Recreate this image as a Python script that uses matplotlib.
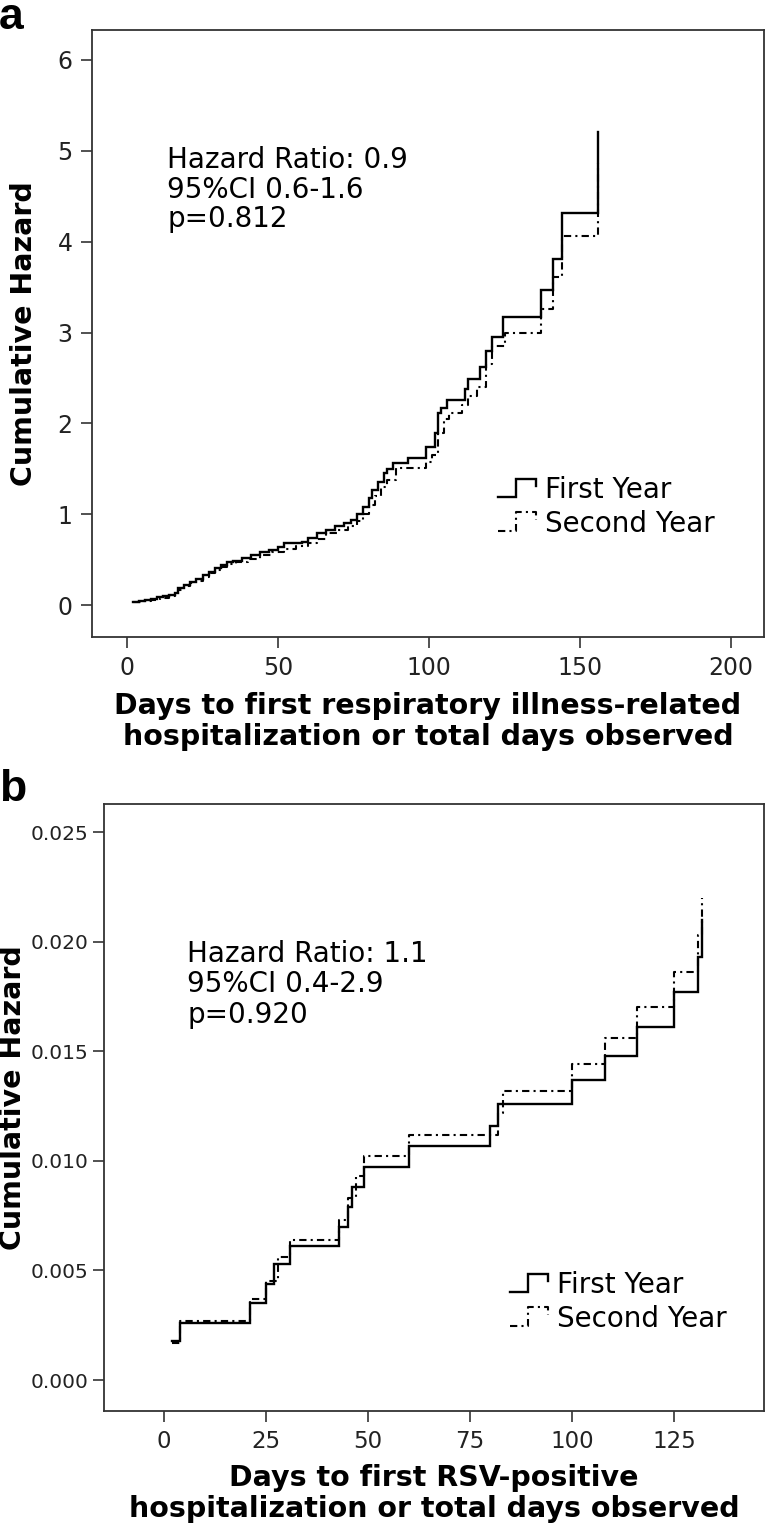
import matplotlib
matplotlib.use("Agg")
import matplotlib.pyplot as plt
from matplotlib.lines import Line2D
from matplotlib.legend_handler import HandlerBase
from matplotlib.ticker import FixedLocator, FormatStrFormatter

plt.rcParams['font.family'] = ['DejaVu Sans']

# ---------------- Data: panel a (respiratory illness-related hospitalization) ----------------
a_first_days = [2, 4, 6, 8, 10, 12, 14, 16, 17, 19, 21, 23, 25, 27, 29, 31, 33, 35, 38, 41,
                44, 47, 50, 52, 58, 60, 63, 66, 69, 72, 74, 76, 78, 80, 81, 83, 85, 86, 88,
                93, 99, 102, 103, 104, 106, 112, 113, 117, 119, 121, 124.5, 137, 141, 144, 156]
a_first_vals = [0.04, 0.05, 0.06, 0.07, 0.09, 0.10, 0.11, 0.13, 0.19, 0.22, 0.25, 0.29, 0.33,
                0.37, 0.41, 0.44, 0.47, 0.49, 0.52, 0.55, 0.58, 0.61, 0.64, 0.68, 0.70, 0.74,
                0.79, 0.83, 0.87, 0.91, 0.94, 1.00, 1.08, 1.18, 1.27, 1.36, 1.45, 1.50, 1.56,
                1.62, 1.74, 1.89, 2.11, 2.17, 2.26, 2.38, 2.49, 2.62, 2.80, 2.95, 3.17, 3.47,
                3.81, 4.32, 5.21]

a_second_days = [2, 5, 8, 11, 14, 16, 17, 19, 21, 23, 25, 27, 29, 31, 33, 36, 40, 44, 48, 52,
                 56, 60, 63, 66, 70, 73, 76, 78, 80, 82, 84, 86, 89, 99, 101, 103, 105, 106.7,
                 111, 113, 116, 119, 121, 125, 137, 141, 144, 156]
a_second_vals = [0.03, 0.05, 0.06, 0.08, 0.10, 0.12, 0.17, 0.21, 0.24, 0.27, 0.31, 0.35, 0.39,
                 0.42, 0.45, 0.48, 0.51, 0.55, 0.58, 0.62, 0.65, 0.68, 0.73, 0.79, 0.83, 0.87,
                 0.93, 1.00, 1.10, 1.20, 1.30, 1.38, 1.51, 1.58, 1.65, 1.90, 2.05, 2.11, 2.20,
                 2.30, 2.40, 2.65, 2.85, 3.00, 3.26, 3.61, 4.06, 4.87]

# ---------------- Data: panel b (RSV-positive hospitalization) ----------------
b_first_days = [2, 4, 21, 25, 27, 31, 43, 45, 46, 49, 60, 80, 82, 100, 108, 116, 125, 131, 132]
b_first_vals = [0.0018, 0.0026, 0.0035, 0.0044, 0.0053, 0.0061, 0.0070, 0.0079, 0.0088, 0.0097,
                0.0107, 0.0116, 0.0126, 0.0137, 0.0148, 0.0161, 0.0177, 0.0193, 0.0210]

b_second_days = [2, 4, 21, 25, 28, 31, 43, 45, 47, 49, 60, 82, 83, 100, 108, 116, 125, 131, 132]
b_second_vals = [0.0017, 0.0027, 0.0037, 0.0045, 0.0056, 0.0064, 0.0073, 0.0083, 0.0093, 0.0102,
                 0.0112, 0.0122, 0.0132, 0.0144, 0.0156, 0.0170, 0.0186, 0.0203, 0.0220]

series_labels = ["First Year", "Second Year"]
a_xticks = [0, 50, 100, 150, 200]
a_yticks = [0, 1, 2, 3, 4, 5, 6]
b_xticks = [0, 25, 50, 75, 100, 125]
b_yticks = [0.000, 0.005, 0.010, 0.015, 0.020, 0.025]

a_stats = ["Hazard Ratio: 0.9", "95%CI 0.6-1.6", "p=0.812"]
b_stats = ["Hazard Ratio: 1.1", "95%CI 0.4-2.9", "p=0.920"]
a_xlabel = "Days to first respiratory illness-related\nhospitalization or total days observed"
b_xlabel = "Days to first RSV-positive\nhospitalization or total days observed"
ylabel = "Cumulative Hazard"

# ---------------- Figure ----------------
W, H = 767, 1530
fig = plt.figure(figsize=(W / 100, H / 100), dpi=100)

def fx(px):
    return px / W

def fy(py):
    return 1 - py / H

axa = fig.add_axes([fx(92), fy(637), fx(764) - fx(92), (637 - 30) / H])
axb = fig.add_axes([fx(104), fy(1411), fx(764) - fx(104), (1411 - 804) / H])

DASH = (0, (3.5, 2.0, 1.0, 2.0))


class StepHandler(HandlerBase):
    def create_artists(self, legend, orig_handle, xdescent, ydescent, width, height,
                       fontsize, trans):
        x0, y0 = -xdescent, -ydescent
        xs = [x0, x0 + 0.47 * width, x0 + 0.47 * width, x0 + 0.97 * width, x0 + 0.97 * width]
        ys = [y0 + 0.05 * height, y0 + 0.05 * height, y0 + 1.0 * height, y0 + 1.0 * height,
              y0 + 0.6 * height]
        ln = Line2D(xs, ys)
        ln.update_from(orig_handle)
        ln.set_transform(trans)
        return [ln]


def style_axes(ax, xlim, ylim, xticks, yticks, yfmt=None, xsize=17, ysize=17, ypad=6):
    ax.set_xlim(*xlim)
    ax.set_ylim(*ylim)
    ax.xaxis.set_major_locator(FixedLocator(xticks))
    ax.yaxis.set_major_locator(FixedLocator(yticks))
    if yfmt:
        ax.yaxis.set_major_formatter(FormatStrFormatter(yfmt))
    ax.tick_params(direction='out', length=8, width=1.1, pad=6,
                   top=False, right=False, colors='#222222')
    ax.tick_params(axis='x', labelsize=xsize)
    ax.tick_params(axis='y', labelsize=ysize, pad=ypad)
    for s in ax.spines.values():
        s.set_linewidth(1.3)
        s.set_color('#333333')


def draw_panel(ax, d1, v1, d2, v2, legend_anchor):
    l1, = ax.step(d1, v1, where='post', color='black', lw=1.7, solid_joinstyle='miter',
                  label=series_labels[0])
    l2, = ax.step(d2, v2, where='post', color='black', lw=1.5, linestyle=DASH,
                  label=series_labels[1])
    ax.legend(handles=[l1, l2], labels=series_labels, loc='upper left',
              bbox_to_anchor=legend_anchor, bbox_transform=fig.transFigure,
              frameon=False, borderpad=0, borderaxespad=0, handlelength=1.4,
              handletextpad=0.3, labelspacing=0.2, fontsize=20,
              handler_map={Line2D: StepHandler()})


draw_panel(axa, a_first_days, a_first_vals, a_second_days, a_second_vals,
           (fx(498), fy(476)))
draw_panel(axb, b_first_days, b_first_vals, b_second_days, b_second_vals,
           (fx(510), fy(1271)))

style_axes(axa, (-11.6, 210.9), (-0.35, 6.33), a_xticks, a_yticks)
style_axes(axb, (-14.7, 147.1), (-0.00141, 0.02628), b_xticks, b_yticks, '%.3f',
           xsize=16.5, ysize=14.5, ypad=3)

# stats text
for i, t in enumerate(a_stats):
    fig.text(fx(167), fy(168 + 29.5 * i), t, fontsize=20, ha='left', va='baseline')
for i, t in enumerate(b_stats):
    fig.text(fx(187), fy(962 + 30.5 * i), t, fontsize=20, ha='left', va='baseline')

# x labels
for ax, lab, base, cxp in [(axa, a_xlabel, 714, 428), (axb, b_xlabel, 1486, 434)]:
    l1, l2 = lab.split("\n")
    cx = fx(cxp)
    fig.text(cx, fy(base), l1, fontsize=20.5, fontweight='bold', ha='center', va='baseline')
    fig.text(cx, fy(base + 31), l2, fontsize=20.5, fontweight='bold', ha='center', va='baseline')

# y labels
fig.text(fx(24), fy((30 + 637) / 2), ylabel, fontsize=20.5, fontweight='bold',
         rotation=90, ha='center', va='center')
fig.text(fx(13), fy((804 + 1411) / 2 - 10), ylabel, fontsize=20.5, fontweight='bold',
         rotation=90, ha='center', va='center')

# panel letters
fig.text(fx(-1), fy(29), 'a', fontsize=32, fontweight='bold', ha='left', va='baseline',
         family=['Liberation Sans', 'DejaVu Sans'])
fig.text(fx(-1), fy(801), 'b', fontsize=32, fontweight='bold', ha='left', va='baseline',
         family=['Liberation Sans', 'DejaVu Sans'])

fig.savefig('out.png', dpi=100)
